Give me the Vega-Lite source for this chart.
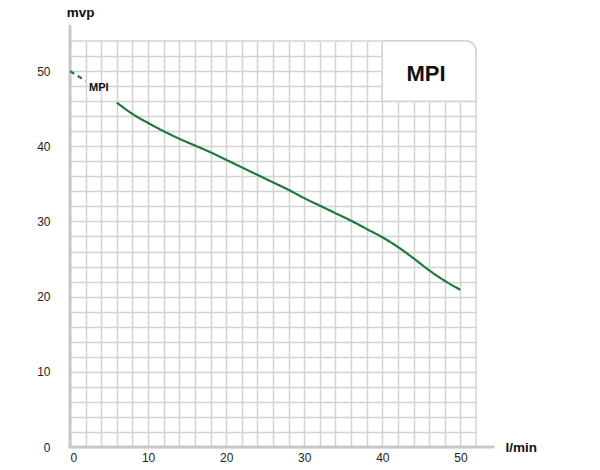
{
  "$schema": "https://vega.github.io/schema/vega-lite/v6.json",
  "width": 406,
  "height": 406,
  "autosize": "none",
  "padding": {"left": 70, "top": 41, "right": 124, "bottom": 23},
  "background": "white",
  "config": {
    "view": {"stroke": null},
    "font": "Liberation Sans",
    "axisX": {
      "grid": true, "gridColor": "#d3d3d3", "gridWidth": 1.5,
      "domain": false, "ticks": false,
      "labelFontSize": 12, "labelColor": "#222", "labelPadding": 5, "labelFont": "Liberation Sans",
      "titleAngle": 0, "titleX": 435, "titleY": 0, "titleAlign": "left", "titleBaseline": "middle",
      "titleFontSize": 13.5, "titleFontWeight": "bold", "titleColor": "#111", "titleFont": "Liberation Sans"
    },
    "axisY": {
      "grid": true, "gridColor": "#d3d3d3", "gridWidth": 1.5,
      "domain": false, "ticks": false,
      "labelFontSize": 12, "labelColor": "#222", "labelPadding": 20, "labelFont": "Liberation Sans",
      "titleAngle": 0, "titleX": 10, "titleY": -29, "titleAlign": "center", "titleBaseline": "middle",
      "titleFontSize": 13.5, "titleFontWeight": "bold", "titleColor": "#111", "titleFont": "Liberation Sans"
    }
  },
  "datasets": {
    "curve": [
      {"flow": 0, "head": 50.0, "seg": "dashed"},
      {"flow": 2, "head": 48.7, "seg": "dashed"},
      {"flow": 6, "head": 45.8, "seg": "solid"},
      {"flow": 8, "head": 44.3, "seg": "solid"},
      {"flow": 10, "head": 43.1, "seg": "solid"},
      {"flow": 12, "head": 42.0, "seg": "solid"},
      {"flow": 14, "head": 41.0, "seg": "solid"},
      {"flow": 16, "head": 40.1, "seg": "solid"},
      {"flow": 18, "head": 39.2, "seg": "solid"},
      {"flow": 20, "head": 38.2, "seg": "solid"},
      {"flow": 22, "head": 37.2, "seg": "solid"},
      {"flow": 24, "head": 36.2, "seg": "solid"},
      {"flow": 26, "head": 35.2, "seg": "solid"},
      {"flow": 28, "head": 34.2, "seg": "solid"},
      {"flow": 30, "head": 33.1, "seg": "solid"},
      {"flow": 32, "head": 32.1, "seg": "solid"},
      {"flow": 34, "head": 31.1, "seg": "solid"},
      {"flow": 36, "head": 30.1, "seg": "solid"},
      {"flow": 38, "head": 29.0, "seg": "solid"},
      {"flow": 40, "head": 27.9, "seg": "solid"},
      {"flow": 42, "head": 26.6, "seg": "solid"},
      {"flow": 44, "head": 25.1, "seg": "solid"},
      {"flow": 46, "head": 23.5, "seg": "solid"},
      {"flow": 48, "head": 22.1, "seg": "solid"},
      {"flow": 50, "head": 20.9, "seg": "solid"}
    ]
  },
  "layer": [
    {
      "data": {"values": [{}]},
      "mark": {"type": "rect", "fill": null, "stroke": "#d3d3d3", "strokeWidth": 1.5, "cornerRadiusTopRight": 10},
      "encoding": {
        "x": {"datum": 0, "type": "quantitative", "title": "l/min",
          "scale": {"domain": [0, 52], "nice": false, "zero": false},
          "axis": {"values": [0, 2, 4, 6, 8, 10, 12, 14, 16, 18, 20, 22, 24, 26, 28, 30, 32, 34, 36, 38, 40, 42, 44, 46, 48, 50], "labelExpr": "datum.value % 10 === 0 ? datum.label : ''"}},
        "x2": {"datum": 52},
        "y": {"datum": 0, "type": "quantitative", "title": "mvp",
          "scale": {"domain": [0, 54], "nice": false, "zero": false},
          "axis": {"values": [0, 2, 4, 6, 8, 10, 12, 14, 16, 18, 20, 22, 24, 26, 28, 30, 32, 34, 36, 38, 40, 42, 44, 46, 48, 50, 52], "labelExpr": "datum.value % 10 === 0 ? datum.label : ''"}},
        "y2": {"datum": 54}
      }
    },
    {
      "data": {"values": [{}]},
      "mark": {"type": "rect", "fill": "white", "stroke": "#d3d3d3", "strokeWidth": 1.5, "cornerRadiusTopRight": 10},
      "encoding": {
        "x": {"datum": 40, "type": "quantitative", "title": "l/min",
          "axis": {"values": [0, 2, 4, 6, 8, 10, 12, 14, 16, 18, 20, 22, 24, 26, 28, 30, 32, 34, 36, 38, 40, 42, 44, 46, 48, 50], "labelExpr": "datum.value % 10 === 0 ? datum.label : ''"}},
        "x2": {"datum": 52},
        "y": {"datum": 46, "type": "quantitative", "title": "mvp",
          "axis": {"values": [0, 2, 4, 6, 8, 10, 12, 14, 16, 18, 20, 22, 24, 26, 28, 30, 32, 34, 36, 38, 40, 42, 44, 46, 48, 50, 52], "labelExpr": "datum.value % 10 === 0 ? datum.label : ''"}},
        "y2": {"datum": 54}
      }
    },
    {
      "data": {"values": [{}]},
      "mark": {"type": "rule", "color": "#c8c8c8", "strokeWidth": 3, "strokeCap": "round", "clip": false},
      "encoding": {
        "x": {"datum": 0, "type": "quantitative", "title": "l/min",
          "axis": {"values": [0, 2, 4, 6, 8, 10, 12, 14, 16, 18, 20, 22, 24, 26, 28, 30, 32, 34, 36, 38, 40, 42, 44, 46, 48, 50], "labelExpr": "datum.value % 10 === 0 ? datum.label : ''"}},
        "x2": {"datum": 54.2},
        "y": {"datum": 0, "type": "quantitative", "title": "mvp",
          "axis": {"values": [0, 2, 4, 6, 8, 10, 12, 14, 16, 18, 20, 22, 24, 26, 28, 30, 32, 34, 36, 38, 40, 42, 44, 46, 48, 50, 52], "labelExpr": "datum.value % 10 === 0 ? datum.label : ''"}}
      }
    },
    {
      "data": {"values": [{}]},
      "mark": {"type": "rule", "color": "#c8c8c8", "strokeWidth": 3, "strokeCap": "round", "clip": false},
      "encoding": {
        "x": {"datum": 0, "type": "quantitative", "title": "l/min",
          "axis": {"values": [0, 2, 4, 6, 8, 10, 12, 14, 16, 18, 20, 22, 24, 26, 28, 30, 32, 34, 36, 38, 40, 42, 44, 46, 48, 50], "labelExpr": "datum.value % 10 === 0 ? datum.label : ''"}},
        "y": {"datum": 0, "type": "quantitative", "title": "mvp",
          "axis": {"values": [0, 2, 4, 6, 8, 10, 12, 14, 16, 18, 20, 22, 24, 26, 28, 30, 32, 34, 36, 38, 40, 42, 44, 46, 48, 50, 52], "labelExpr": "datum.value % 10 === 0 ? datum.label : ''"}},
        "y2": {"datum": 56}
      }
    },
    {
      "data": {"name": "curve"},
      "mark": {"type": "line", "color": "#1c7a3c", "strokeWidth": 2.2, "interpolate": "monotone"},
      "encoding": {
        "x": {"field": "flow", "type": "quantitative", "title": "l/min",
          "axis": {"values": [0, 2, 4, 6, 8, 10, 12, 14, 16, 18, 20, 22, 24, 26, 28, 30, 32, 34, 36, 38, 40, 42, 44, 46, 48, 50], "labelExpr": "datum.value % 10 === 0 ? datum.label : ''"}},
        "y": {"field": "head", "type": "quantitative", "title": "mvp",
          "axis": {"values": [0, 2, 4, 6, 8, 10, 12, 14, 16, 18, 20, 22, 24, 26, 28, 30, 32, 34, 36, 38, 40, 42, 44, 46, 48, 50, 52], "labelExpr": "datum.value % 10 === 0 ? datum.label : ''"}},
        "strokeDash": {
          "field": "seg", "type": "nominal", "legend": null,
          "scale": {"domain": ["dashed", "solid"], "range": [[5, 4], [1, 0]]}
        }
      }
    },
    {
      "data": {"values": [{"name": "MPI", "flow": 3.7, "head": 47.7}]},
      "mark": {"type": "text", "fontSize": 11, "fontWeight": "bold", "color": "#111", "align": "center", "baseline": "middle"},
      "encoding": {
        "x": {"field": "flow", "type": "quantitative", "title": "l/min",
          "axis": {"values": [0, 2, 4, 6, 8, 10, 12, 14, 16, 18, 20, 22, 24, 26, 28, 30, 32, 34, 36, 38, 40, 42, 44, 46, 48, 50], "labelExpr": "datum.value % 10 === 0 ? datum.label : ''"}},
        "y": {"field": "head", "type": "quantitative", "title": "mvp",
          "axis": {"values": [0, 2, 4, 6, 8, 10, 12, 14, 16, 18, 20, 22, 24, 26, 28, 30, 32, 34, 36, 38, 40, 42, 44, 46, 48, 50, 52], "labelExpr": "datum.value % 10 === 0 ? datum.label : ''"}},
        "text": {"field": "name"}
      }
    },
    {
      "data": {"values": [{"name": "MPI", "flow": 45.6, "head": 49.6}]},
      "mark": {"type": "text", "fontSize": 22, "fontWeight": "bold", "color": "#111", "align": "center", "baseline": "middle"},
      "encoding": {
        "x": {"field": "flow", "type": "quantitative", "title": "l/min",
          "axis": {"values": [0, 2, 4, 6, 8, 10, 12, 14, 16, 18, 20, 22, 24, 26, 28, 30, 32, 34, 36, 38, 40, 42, 44, 46, 48, 50], "labelExpr": "datum.value % 10 === 0 ? datum.label : ''"}},
        "y": {"field": "head", "type": "quantitative", "title": "mvp",
          "axis": {"values": [0, 2, 4, 6, 8, 10, 12, 14, 16, 18, 20, 22, 24, 26, 28, 30, 32, 34, 36, 38, 40, 42, 44, 46, 48, 50, 52], "labelExpr": "datum.value % 10 === 0 ? datum.label : ''"}},
        "text": {"field": "name"}
      }
    }
  ]
}
